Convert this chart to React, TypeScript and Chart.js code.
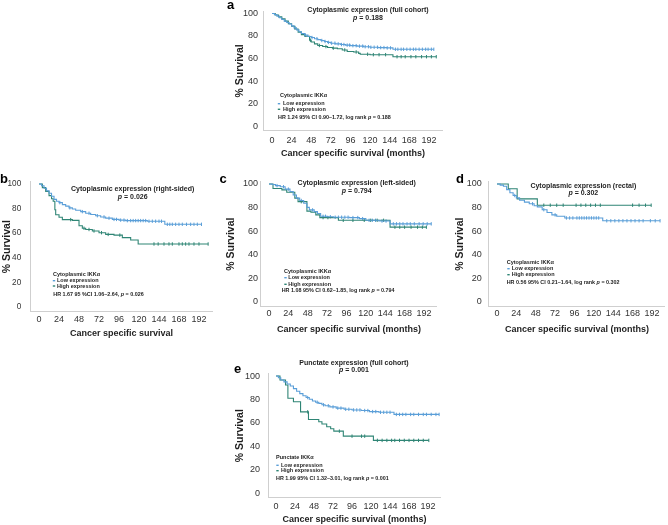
import React, { useEffect, useRef } from 'react';
import { Chart, registerables } from 'chart.js';
Chart.register(...registerables);

const FAMILY = "'Liberation Sans', Arial, Helvetica, sans-serif";
Chart.defaults.font.family = FAMILY;

const X_TICKS = [0, 24, 48, 72, 96, 120, 144, 168, 192];
const Y_TICKS = [0, 20, 40, 60, 80, 100];

const LOW_LABEL = 'Low expression';
const HIGH_LABEL = 'High expression';
const Y_TITLE = '% Survival';

// Panel a – cytoplasmic, full cohort
const A_LOW_TIME = [0, 3, 6, 9, 12, 15, 18, 21, 24, 27, 30, 33, 36, 40, 44, 48, 52, 56, 60, 64, 68, 72, 78, 84, 90, 96, 104, 112, 120, 130, 140, 148, 198];
const A_LOW_SURV = [100, 99, 97.6, 96.2, 94.6, 93.2, 92, 90.6, 89, 87.2, 85.4, 83.8, 82.2, 80.8, 79.6, 78.6, 77.6, 76.8, 76, 75.1, 74.3, 73.6, 73, 72.4, 71.9, 71.4, 71, 70.5, 70, 69.7, 69.4, 68.2, 68.2];
const A_LOW_CENS = [28, 41, 49, 55, 61, 65, 69, 73, 77, 81, 85, 88, 92, 95, 99, 103, 107, 111, 114, 118, 121, 125, 129, 133, 137, 141, 145, 151, 154, 158, 161, 165, 169, 173, 176, 180, 184, 188, 191, 195, 198];
const A_HIGH_TIME = [0, 4, 8, 12, 16, 20, 24, 28, 32, 36, 40, 46, 48, 52, 56, 62, 68, 74, 80, 86, 92, 100, 106, 108, 120, 148, 201];
const A_HIGH_SURV = [100, 98.6, 97, 95.2, 93.2, 90.8, 88.6, 86.2, 83.4, 81.2, 79.8, 76.2, 74.6, 73, 71.6, 70.6, 69.8, 69.2, 68.6, 67.6, 66.2, 65.8, 64.6, 63.8, 63.4, 61.6, 61.6];
const A_HIGH_CENS = [47, 58, 66, 75, 89, 103, 117, 124, 131, 139, 153, 158, 163, 170, 176, 183, 189, 195, 201];

// Panel b – right-sided
const B_LOW_TIME = [0, 3, 6, 9, 12, 15, 18, 21, 24, 28, 32, 36, 40, 44, 50, 56, 62, 68, 74, 80, 88, 96, 104, 130, 151, 195];
const B_LOW_SURV = [100, 98.5, 96.5, 94.5, 92.5, 90, 87.5, 86, 84.8, 83.2, 82, 80.6, 79.6, 78.6, 77.5, 76.2, 75.2, 74.2, 73.2, 72.2, 71.2, 70.6, 70.2, 69.7, 67.2, 67.2];
const B_LOW_CENS = [25, 37, 52, 60, 70, 78, 84, 90, 93, 98, 102, 106, 110, 113, 116, 119, 122, 125, 128, 132, 136, 140, 144, 147, 154, 157, 160, 164, 168, 172, 177, 182, 186, 190, 195];
const B_HIGH_TIME = [0, 4, 8, 12, 15, 17, 19, 20, 24, 28, 40, 48, 52, 56, 64, 72, 80, 90, 100, 110, 119, 203];
const B_HIGH_SURV = [100, 97, 94, 90.5, 88, 86, 79, 75, 73, 71, 70.4, 66, 64, 63, 61.8, 60.4, 59, 58.4, 56.4, 54.4, 51.2, 51.2];
const B_HIGH_CENS = [38, 54, 60, 66, 75, 83, 97, 138, 143, 150, 156, 160, 168, 172, 176, 180, 186, 192, 203];

// Panel c – left-sided
const C_LOW_TIME = [0, 4, 8, 14, 20, 26, 30, 34, 38, 43, 47, 50, 56, 60, 64, 72, 80, 100, 112, 120, 136, 150, 201];
const C_LOW_SURV = [100, 99.5, 98.6, 97.6, 95.6, 93.6, 90.6, 88, 86, 83.6, 80.2, 78, 76.6, 75, 72.6, 72.2, 71.8, 71.5, 70.6, 69.2, 68.6, 66.2, 66.2];
const C_LOW_CENS = [10, 18, 24, 40, 54, 67, 70, 76, 82, 86, 90, 94, 98, 104, 110, 116, 124, 128, 132, 140, 145, 154, 158, 162, 166, 171, 175, 180, 186, 191, 196, 201];
const C_HIGH_TIME = [0, 5, 16, 22, 32, 36, 47, 52, 58, 63, 86, 150, 195];
const C_HIGH_SURV = [100, 96.2, 95, 93, 88, 85, 77, 76, 73.8, 71.5, 69.2, 63.4, 63.4];
const C_HIGH_CENS = [40, 67, 73, 92, 104, 118, 126, 134, 142, 156, 162, 168, 176, 184, 190, 195];

// Panel d – rectal
const D_LOW_TIME = [0, 4, 8, 12, 16, 20, 24, 28, 34, 40, 46, 50, 56, 62, 68, 74, 84, 131, 202];
const D_LOW_SURV = [100, 99, 98, 95.2, 92.6, 90.2, 88.2, 86.2, 84.6, 83.2, 81.6, 80.6, 78.2, 75.8, 73.8, 72.6, 71.2, 68.8, 68.8];
const D_LOW_CENS = [22, 44, 58, 72, 86, 90, 94, 99, 102, 105, 108, 111, 114, 117, 120, 123, 126, 136, 141, 146, 151, 156, 161, 166, 171, 176, 181, 190, 196, 202];
const D_HIGH_TIME = [0, 14, 25, 50, 191];
const D_HIGH_SURV = [100, 96, 87.4, 82, 82];
const D_HIGH_CENS = [58, 66, 74, 82, 98, 104, 110, 116, 122, 128, 168, 176, 184, 191];

// Panel e – punctate, full cohort
const E_LOW_TIME = [0, 3, 6, 10, 14, 18, 22, 26, 30, 34, 38, 42, 46, 50, 54, 58, 62, 68, 76, 86, 96, 108, 118, 130, 149, 206];
const E_LOW_SURV = [100, 98.5, 96.6, 95, 93.2, 91.5, 89.2, 87, 85, 83.2, 81.6, 80.1, 78.7, 77.6, 76.6, 75.4, 74.6, 73.6, 72.6, 71.6, 71, 70.5, 69.6, 69, 67.2, 67.2];
const E_LOW_CENS = [40, 52, 60, 66, 72, 78, 82, 88, 92, 98, 102, 106, 112, 116, 122, 126, 132, 136, 140, 144, 152, 156, 160, 164, 170, 174, 180, 186, 190, 196, 202, 206];
const E_HIGH_TIME = [0, 5, 12, 15, 22, 31, 41, 54, 58, 64, 69, 73, 85, 123, 193];
const E_HIGH_SURV = [100, 96.6, 92.3, 81, 78, 69.4, 62.9, 60.9, 59, 56.6, 55, 52.9, 48.6, 45, 45];
const E_HIGH_CENS = [40, 80, 96, 108, 112, 128, 134, 140, 146, 150, 156, 162, 168, 174, 180, 186, 193];

const BLUE = '#5a9ed8';
const GREEN = '#2f8575';
const AXIS = '#cfcfcf';
const TEXT = '#1e1e1e';

type Curve = { t: number[]; s: number[]; c: number[] };
type Geom = {
  L: number; R: number; T: number; B: number; yTitleX: number; xTitleY: number; yPad: number; xPad: number; yTick: number;
  letterX: number; letterY: number; titleX: number; titleY: number; pY: number;
  legX: number; legY: number; markX: number; entX: number; lowY: number; highY: number; hrX: number; hrY: number;
};
type Panel = {
  letter: string; title: string; p: string; header: string; hr: string; xTitle: string;
  low: Curve; high: Curve; g: Geom;
};

const PANELS: Panel[] = [
  {
    letter: 'a', title: 'Cytoplasmic expression (full cohort)', p: '0.188', header: 'Cytoplasmic IKKα',
    hr: 'HR 1.24 95% CI 0.90–1.72, log rank p = 0.188', xTitle: 'Cancer specific survival (months)',
    low: { t: A_LOW_TIME, s: A_LOW_SURV, c: A_LOW_CENS }, high: { t: A_HIGH_TIME, s: A_HIGH_SURV, c: A_HIGH_CENS },
    g: { L: 263.8, R: 442, T: 8.7, B: 130.6, yTitleX: 240, xTitleY: 154, yPad: 5.8, xPad: 4.5, yTick: 9, letterX: 227, letterY: 8.5,
      titleX: 368, titleY: 10, pY: 18.3, legX: 280, legY: 95.7, markX: 279, entX: 283, lowY: 103.7, highY: 109.3, hrX: 278, hrY: 117.3 },
  },
  {
    letter: 'b', title: 'Cytoplasmic expression (right-sided)', p: '0.026', header: 'Cytoplasmic IKKα',
    hr: 'HR 1.67 95 %CI 1.06–2.64, p = 0.026', xTitle: 'Cancer specific survival',
    low: { t: B_LOW_TIME, s: B_LOW_SURV, c: B_LOW_CENS }, high: { t: B_HIGH_TIME, s: B_HIGH_SURV, c: B_HIGH_CENS },
    g: { L: 30.7, R: 212.3, T: 181.5, B: 311.9, yTitleX: 7, xTitleY: 333.3, yPad: 9.5, xPad: 2.7, yTick: 8.2, letterX: 0, letterY: 183,
      titleX: 132.7, titleY: 189.3, pY: 197.3, legX: 53, legY: 274, markX: 54, entX: 57, lowY: 280.7, highY: 286, hrX: 53.3, hrY: 295 },
  },
  {
    letter: 'c', title: 'Cytoplasmic expression (left-sided)', p: '0.794', header: 'Cytoplasmic IKKα',
    hr: 'HR 1.08 95% CI 0.62–1.85, log rank p = 0.794', xTitle: 'Cancer specific survival (months)',
    low: { t: C_LOW_TIME, s: C_LOW_SURV, c: C_LOW_CENS }, high: { t: C_HIGH_TIME, s: C_HIGH_SURV, c: C_HIGH_CENS },
    g: { L: 260.9, R: 436.9, T: 181.6, B: 306.7, yTitleX: 231, xTitleY: 330, yPad: 2.9, xPad: 1.2, yTick: 9, letterX: 219.5, letterY: 183,
      titleX: 356.7, titleY: 182.7, pY: 190.7, legX: 284, legY: 271.7, markX: 285.5, entX: 288.3, lowY: 277.7, highY: 284.3, hrX: 281.7, hrY: 290.7 },
  },
  {
    letter: 'd', title: 'Cytoplasmic expression (rectal)', p: '0.302', header: 'Cytoplasmic IKKα',
    hr: 'HR 0.56 95% CI 0.21–1.64, log rank p = 0.302', xTitle: 'Cancer specific survival (months)',
    low: { t: D_LOW_TIME, s: D_LOW_SURV, c: D_LOW_CENS }, high: { t: D_HIGH_TIME, s: D_HIGH_SURV, c: D_HIGH_CENS },
    g: { L: 488.9, R: 664.9, T: 181.6, B: 306.7, yTitleX: 460, xTitleY: 330, yPad: 7.2, xPad: 1.2, yTick: 9, letterX: 456, letterY: 183,
      titleX: 583.3, titleY: 185.7, pY: 193.3, legX: 506.7, legY: 262.7, markX: 508.5, entX: 511.7, lowY: 268.7, highY: 274.7, hrX: 506.7, hrY: 282.3 },
  },
  {
    letter: 'e', title: 'Punctate expression (full cohort)', p: '0.001', header: 'Punctate IKKα',
    hr: 'HR 1.99 95% CI 1.32–3.01, log rank p = 0.001', xTitle: 'Cancer specific survival (months)',
    low: { t: E_LOW_TIME, s: E_LOW_SURV, c: E_LOW_CENS }, high: { t: E_HIGH_TIME, s: E_HIGH_SURV, c: E_HIGH_CENS },
    g: { L: 268.1, R: 440.7, T: 373.7, B: 497.7, yTitleX: 240, xTitleY: 519.3, yPad: 8.1, xPad: 3.6, yTick: 9, letterX: 234, letterY: 373,
      titleX: 354, titleY: 363.3, pY: 370, legX: 276, legY: 457.7, markX: 277.5, entX: 281, lowY: 465.3, highY: 470.7, hrX: 276, hrY: 478.3 },
  },
];

const W = 668;
const H = 525;
const Y_TITLE_SIZE = 10.5;
const X_TITLE_SIZE = 9;

function survAt(c: Curve, time: number) {
  let v = c.s[0];
  for (let i = 0; i < c.t.length; i++) if (c.t[i] <= time) v = c.s[i];
  return v;
}

type Seg = { t: string; it?: boolean };
function segsWithP(text: string): Seg[] {
  const idx = text.lastIndexOf('p =');
  if (idx < 0) return [{ t: text }];
  return [{ t: text.slice(0, idx) }, { t: 'p', it: true }, { t: text.slice(idx + 1) }];
}
function drawSegs(ctx: CanvasRenderingContext2D, segs: Seg[], x: number, y: number, size: number, align: 'left' | 'center', weight = 'bold') {
  const fontOf = (s: Seg) => `${s.it ? 'italic ' : ''}${weight} ${size}px ${FAMILY}`;
  let total = 0;
  for (const s of segs) { ctx.font = fontOf(s); total += ctx.measureText(s.t).width; }
  let cx = align === 'center' ? x - total / 2 : x;
  ctx.textAlign = 'left';
  ctx.textBaseline = 'middle';
  for (const s of segs) {
    ctx.font = fontOf(s);
    ctx.fillText(s.t, cx, y);
    cx += ctx.measureText(s.t).width;
  }
}

function makeTextPlugin(p: Panel) {
  return {
    id: 'panelText' + p.letter,
    afterDraw(chart: any) {
      const ctx: CanvasRenderingContext2D = chart.ctx;
      const g = p.g;
      ctx.save();
      ctx.fillStyle = '#000';
      ctx.font = `bold 13px ${FAMILY}`;
      ctx.textAlign = 'left';
      ctx.textBaseline = 'alphabetic';
      ctx.fillText(p.letter, g.letterX, g.letterY);
      ctx.fillStyle = TEXT;
      drawSegs(ctx, [{ t: p.title }], g.titleX, g.titleY, 7, 'center');
      drawSegs(ctx, [{ t: 'p', it: true }, { t: ' = ' + p.p }], g.titleX, g.pY, 7, 'center');
      drawSegs(ctx, [{ t: p.header }], g.legX, g.legY, 5.5, 'left');
      ctx.fillStyle = BLUE;
      ctx.fillRect(g.markX - 1.2, g.lowY - 0.7, 2.4, 1.4);
      ctx.fillStyle = GREEN;
      ctx.fillRect(g.markX - 1.2, g.highY - 0.7, 2.4, 1.4);
      ctx.fillStyle = TEXT;
      drawSegs(ctx, [{ t: LOW_LABEL }], g.entX, g.lowY, 5.5, 'left');
      drawSegs(ctx, [{ t: HIGH_LABEL }], g.entX, g.highY, 5.5, 'left');
      drawSegs(ctx, segsWithP(p.hr), g.hrX, g.hrY, 5.4, 'left');
      ctx.restore();
    },
  };
}

function curveDataset(c: Curve, color: string) {
  return {
    data: c.t.map((t, i) => ({ x: t, y: c.s[i] })),
    borderColor: color,
    borderWidth: 1.1,
    stepped: true as const,
    pointRadius: 0,
    pointHitRadius: 0,
    fill: false,
    tension: 0,
  };
}
function censorDataset(c: Curve, color: string) {
  return {
    data: c.c.map((t) => ({ x: t, y: survAt(c, t) })),
    showLine: false,
    borderColor: color,
    backgroundColor: color,
    pointStyle: 'line' as const,
    rotation: 90,
    pointRadius: 1.7,
    pointBorderWidth: 1,
    pointHitRadius: 0,
  };
}

function KMPanel({ p }: { p: Panel }) {
  const ref = useRef<HTMLCanvasElement>(null);
  useEffect(() => {
    const g = p.g;
    const yAxisLeft = g.yTitleX - (Y_TITLE_SIZE * 1.2) / 2;
    const Wy = g.L - yAxisLeft;
    const Hx = g.xTitleY + (X_TITLE_SIZE * 1.2) / 2 - g.B;
    const chart = new Chart(ref.current as HTMLCanvasElement, {
      type: 'line',
      data: {
        datasets: [
          curveDataset(p.low, BLUE),
          curveDataset(p.high, GREEN),
          censorDataset(p.low, BLUE),
          censorDataset(p.high, GREEN),
        ] as any,
      },
      options: {
        responsive: false,
        maintainAspectRatio: false,
        animation: false,
        events: [],
        layout: {
          autoPadding: false,
          padding: { left: yAxisLeft, top: g.T, right: W - g.R, bottom: H - g.B - Hx },
        },
        plugins: { legend: { display: false }, tooltip: { enabled: false }, title: { display: false } },
        scales: {
          x: {
            type: 'linear',
            min: -10,
            max: 208,
            afterBuildTicks: (ax: any) => { ax.ticks = X_TICKS.map((v) => ({ value: v })); },
            afterFit: (ax: any) => { ax.height = Hx; },
            grid: { display: false, drawTicks: false },
            border: { display: true, color: AXIS, width: 1 },
            ticks: { padding: g.xPad, font: { size: 9 }, color: '#333', maxRotation: 0, autoSkip: false },
            title: { display: true, text: p.xTitle, font: { size: X_TITLE_SIZE, weight: 'bold' }, color: TEXT, padding: 0 },
          },
          y: {
            type: 'linear',
            min: -4,
            max: 102,
            afterBuildTicks: (ax: any) => { ax.ticks = Y_TICKS.map((v) => ({ value: v })); },
            afterFit: (ax: any) => { ax.width = Wy; },
            grid: { display: false, drawTicks: false },
            border: { display: true, color: AXIS, width: 1 },
            ticks: { padding: g.yPad, font: { size: g.yTick }, color: '#333', autoSkip: false },
            title: { display: true, text: Y_TITLE, font: { size: Y_TITLE_SIZE, weight: 'bold' }, color: TEXT, padding: 0 },
          },
        },
      } as any,
      plugins: [makeTextPlugin(p)],
    });
    return () => chart.destroy();
  }, [p]);
  return (
    <canvas
      ref={ref}
      width={W}
      height={H}
      style={{ position: 'absolute', left: 0, top: 0, width: W, height: H }}
    />
  );
}

export default function App() {
  return (
    <div style={{ position: 'absolute', left: 0, top: 0, width: W, height: H, background: '#fff', overflow: 'hidden' }}>
      {PANELS.map((p) => (
        <KMPanel key={p.letter} p={p} />
      ))}
    </div>
  );
}
